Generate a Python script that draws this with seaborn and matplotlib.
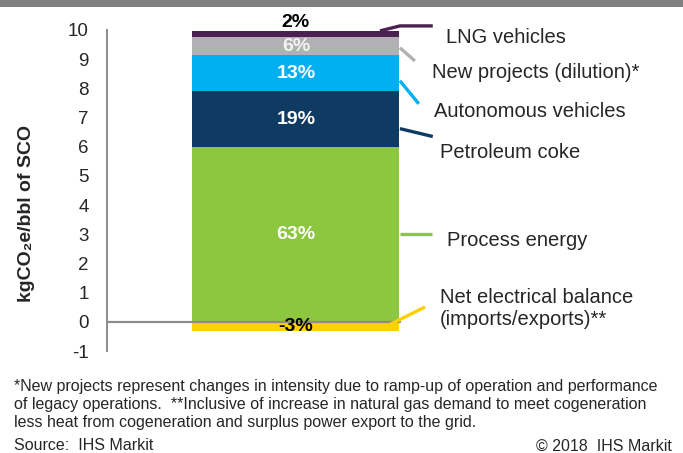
import matplotlib
matplotlib.use("Agg")
import matplotlib.pyplot as plt
import seaborn as sns
import pandas as pd
from matplotlib.patches import Rectangle

# Data (kgCO2e/bbl of SCO)
segments = ["Process energy", "Petroleum coke", "Autonomous vehicles",
            "New projects (dilution)*", "LNG vehicles"]
values = [6.0, 1.9, 1.23, 0.64, 0.2]
shares = ["63%", "19%", "13%", "6%", "2%"]
colors = ["#8DC63F", "#0F3B63", "#00B0F0", "#B1B1B4", "#4B2151"]
share_colors = ["white", "white", "white", "#F4F4F4", "black"]

net_label = "Net electrical balance\n(imports/exports)**"
net_value = -0.3
net_share = "-3%"
net_color = "#FFD100"

yticks = list(range(-1, 11))

sns.set_style("white")
plt.rcParams["font.family"] = ["Liberation Sans", "DejaVu Sans"]

df = pd.DataFrame({"segment": segments, "value": values})
df["top"] = df["value"].cumsum()
df["bottom"] = df["top"] - df["value"]
df["cat"] = "SCO"

fig = plt.figure(figsize=(6.83, 4.53), dpi=100)
ax = fig.add_axes([107 / 683, 1 - 351 / 453, 576 / 683, 321 / 453])

# stacked bar: draw cumulative totals from the top down, each over the previous
for i in reversed(range(len(df))):
    sns.barplot(x=[df["cat"][i]], y=[df["top"][i]], color=colors[i],
                saturation=1, width=0.8, linewidth=0, ax=ax, zorder=2)
sns.barplot(x=["SCO"], y=[net_value], color=net_color, saturation=1,
            width=0.8, linewidth=0, ax=ax, zorder=2)

ax.set_xlim(-0.730, 1.496)
ax.set_ylim(-1, 10)
ax.axhline(0, xmin=0, xmax=(400 - 107) / 576, color="#8C8C8C", lw=1.6, zorder=3)

# share labels
for i, row in df.iterrows():
    y = row["top"] + 0.3 if i == len(df) - 1 else (row["bottom"] + row["top"]) / 2
    ax.text(0, y, shares[i], ha="center", va="center", fontsize=14,
            fontweight="bold", color=share_colors[i], zorder=4)
ax.text(0, net_value / 2, net_share, ha="center", va="center", fontsize=14,
        fontweight="bold", color="black", zorder=4)

# leader lines and segment names
leaders = {
    "LNG vehicles": ([0.325, 0.402, 0.529], [9.97, 10.14, 10.14], (0.580, 9.73)),
    "New projects (dilution)*": ([0.402, 0.46], [9.39, 8.94], (0.526, 8.53)),
    "Autonomous vehicles": ([0.402, 0.475], [8.26, 7.47], (0.533, 7.22)),
    "Petroleum coke": ([0.402, 0.529], [6.62, 6.35], (0.557, 5.79)),
    "Process energy": ([0.402, 0.526], [3.0, 3.0], (0.584, 2.77)),
    net_label: ([0.344, 0.499], [-0.18, 0.51], (0.557, 0.455)),
}
all_colors = dict(zip(segments, colors))
all_colors[net_label] = net_color
for name, (xs, ys, (tx, ty)) in leaders.items():
    ax.plot(xs, ys, color=all_colors[name], lw=2.4, clip_on=False, zorder=3,
            solid_capstyle="butt")
    ax.text(tx, ty, name, ha="left", va="center", fontsize=14.5, linespacing=1.25)

# axes styling
for s in ["top", "right", "bottom"]:
    ax.spines[s].set_visible(False)
ax.spines["left"].set_color("#8C8C8C")
ax.spines["left"].set_linewidth(1.4)
ax.set_xticks([])
ax.set_xlabel("")
ax.set_yticks(yticks)
ax.set_yticklabels([str(t) for t in yticks])
ax.tick_params(axis="y", direction="out", length=4, width=1.4, color="#8C8C8C",
               pad=9, labelsize=13.5)
ax.set_ylabel("kgCO₂e/bbl of SCO", fontsize=14, fontweight="bold")
ax.yaxis.set_label_coords(-0.125, 0.43)

# banner and footnotes
fig.add_artist(Rectangle((0, 1 - 7 / 453), 1, 7 / 453, transform=fig.transFigure,
                         color="#808080", lw=0))
note = ("*New projects represent changes in intensity due to ramp-up of operation and performance\n"
        "of legacy operations.  **Inclusive of increase in natural gas demand to meet cogeneration\n"
        "less heat from cogeneration and surplus power export to the grid.")
fig.text(14 / 683, 1 - 379 / 453, note, ha="left", va="top", fontsize=11.5,
         linespacing=1.25)
fig.text(14 / 683, 1 - 446 / 453, "Source:  IHS Markit", ha="left", va="center",
         fontsize=11.5)
fig.text(672 / 683, 1 - 446 / 453, "© 2018  IHS Markit", ha="right", va="center",
         fontsize=11.5)

fig.savefig("out.png", dpi=100)
